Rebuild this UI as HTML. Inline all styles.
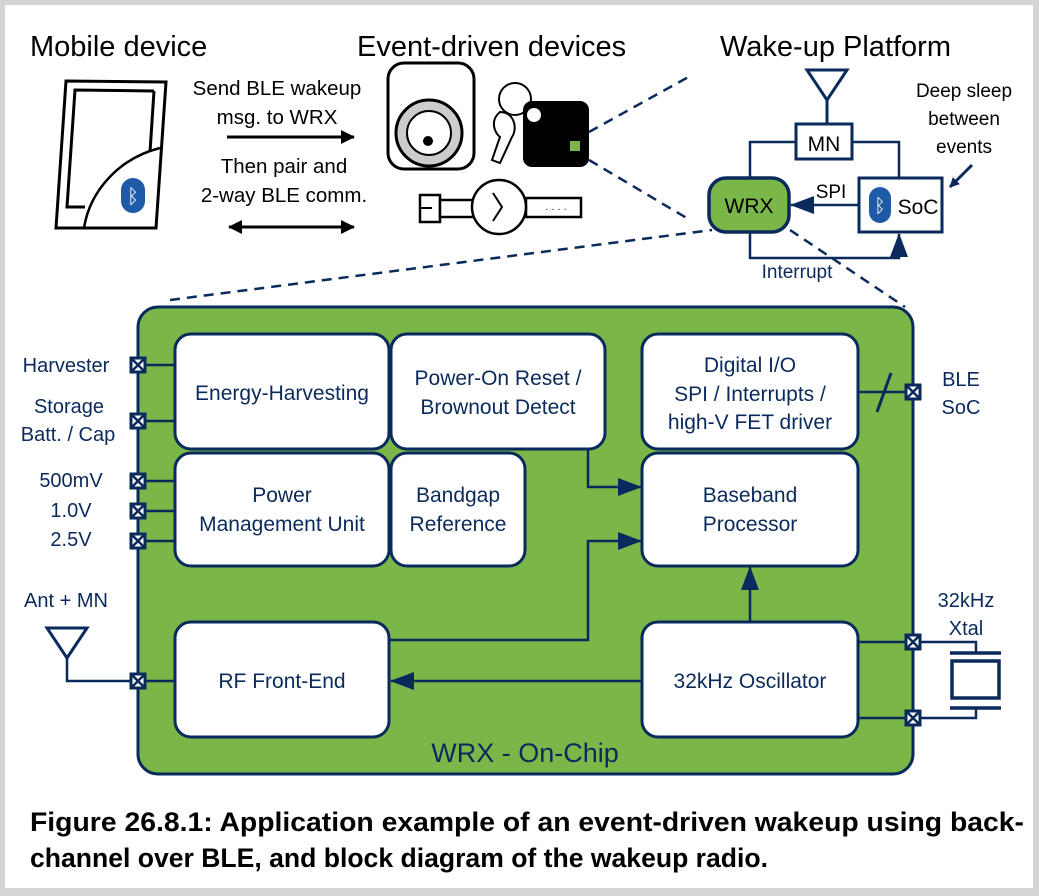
<!DOCTYPE html>
<html><head><meta charset="utf-8"><style>
html,body{margin:0;padding:0;background:#d4d4d4;}
svg{display:block;}
text{font-family:"Liberation Sans",sans-serif;}
</style></head><body>
<svg width="1039" height="896" viewBox="0 0 1039 896" xmlns="http://www.w3.org/2000/svg">
<defs>
<marker id="ab" markerWidth="10" markerHeight="10" refX="9" refY="5" orient="auto" markerUnits="userSpaceOnUse" viewBox="0 0 10 10"><path d="M0,0 L10,5 L0,10z" fill="#0b2a5c"/></marker>
<marker id="ak" markerWidth="14" markerHeight="14" refX="13" refY="7" orient="auto-start-reverse" markerUnits="userSpaceOnUse" viewBox="0 0 14 14"><path d="M0,0 L14,7 L0,14z" fill="#000"/></marker>
<marker id="an" markerWidth="24" markerHeight="18" refX="23" refY="9" orient="auto" markerUnits="userSpaceOnUse" viewBox="0 0 24 18"><path d="M0,0 L24,9 L0,18z" fill="#0b2a5c"/></marker>
<g id="pad"><rect x="-7" y="-7" width="14" height="14" fill="#fff" stroke="#0b2a5c" stroke-width="3"/><path d="M-6,-6 L6,6 M6,-6 L-6,6" stroke="#0b2a5c" stroke-width="2.5"/></g>
</defs>
<rect x="5" y="5" width="1028" height="883" fill="#fff"/>

<!-- titles -->
<text x="30" y="56" font-size="29" fill="#000">Mobile device</text>
<text x="357" y="56" font-size="29" fill="#000">Event-driven devices</text>
<text x="720" y="56" font-size="29" fill="#000">Wake-up Platform</text>

<!-- phone -->
<path d="M66,81 L166,82 L156,228 L56,228 Z" fill="#fff" stroke="#000" stroke-width="3"/>
<path d="M154,91 L75,90 L67,207 L85,207" fill="none" stroke="#000" stroke-width="3"/>
<path d="M154,91 L150,152" fill="none" stroke="#000" stroke-width="3"/>
<path d="M84,228 C90,190 120,158 160,148" fill="none" stroke="#000" stroke-width="2.5"/>
<rect x="121" y="178" width="24" height="35" rx="12" fill="#1f5aa6"/>
<text x="133" y="203" font-size="20" fill="#fff" text-anchor="middle">ᛒ</text>

<text x="277" y="95" font-size="20.5" text-anchor="middle">Send BLE wakeup</text>
<text x="277" y="124" font-size="20.5" text-anchor="middle">msg. to WRX</text>
<line x1="227" y1="137" x2="354" y2="137" stroke="#000" stroke-width="3" marker-end="url(#ak)"/>
<text x="284" y="173" font-size="20.5" text-anchor="middle">Then pair and</text>
<text x="284" y="202" font-size="20.5" text-anchor="middle">2-way BLE comm.</text>
<line x1="229" y1="227" x2="354" y2="227" stroke="#000" stroke-width="3" marker-start="url(#ak)" marker-end="url(#ak)"/>

<!-- lock -->
<rect x="388" y="63" width="86" height="106" rx="16" fill="#fff" stroke="#000" stroke-width="3"/>
<circle cx="429" cy="133" r="33" fill="#ccc" stroke="#000" stroke-width="3"/>
<circle cx="429" cy="133" r="22" fill="#fff" stroke="#000" stroke-width="2"/>
<circle cx="428" cy="141" r="5" fill="#000"/>
<!-- key & tag -->
<circle cx="515" cy="99" r="16" fill="none" stroke="#000" stroke-width="2"/>
<path d="M500,112 C490,120 494,132 500,137 L492,160 L500,163 L512,137 C518,128 514,112 500,112z" fill="#fff" stroke="#000" stroke-width="2"/>
<rect x="523" y="101" width="66" height="66" rx="9" fill="#000"/>
<circle cx="534" cy="115" r="7" fill="#fff"/>
<rect x="570" y="141" width="10" height="10" fill="#7ab648"/>
<!-- watch -->
<rect x="420" y="195" width="20" height="27" fill="#fff" stroke="#000" stroke-width="2.5"/>
<line x1="420" y1="208" x2="432" y2="208" stroke="#000" stroke-width="2"/>
<rect x="440" y="200" width="34" height="17" fill="#fff" stroke="#000" stroke-width="2.5"/>
<rect x="526" y="198" width="55" height="19" fill="#fff" stroke="#000" stroke-width="2.5"/>
<text x="556" y="212" font-size="10" text-anchor="middle">· · · ·</text>
<circle cx="499" cy="207" r="27" fill="#fff" stroke="#000" stroke-width="2.5"/>
<path d="M493,193 L502,207 L493,221" fill="none" stroke="#000" stroke-width="2"/>

<!-- dashed lines -->
<g stroke="#0b2a5c" stroke-width="2.5" stroke-dasharray="10,7" fill="none">
<line x1="589" y1="132" x2="692" y2="75"/>
<line x1="589" y1="160" x2="690" y2="220"/>
<line x1="170" y1="300" x2="712" y2="230"/>
<line x1="790" y1="230" x2="905" y2="307"/>
</g>

<!-- wake-up platform -->
<path d="M807,70 L847,70 L827,100 Z" fill="#fff" stroke="#0b2a5c" stroke-width="3"/>
<line x1="827" y1="100" x2="827" y2="124" stroke="#0b2a5c" stroke-width="3"/>
<rect x="796" y="124" width="56" height="35" fill="#fff" stroke="#0b2a5c" stroke-width="3"/>
<text x="824" y="151" font-size="21" text-anchor="middle" fill="#000">MN</text>
<path d="M796,142 L750,142 L750,178 M852,142 L899,142 L899,178" fill="none" stroke="#0b2a5c" stroke-width="2.5"/>
<rect x="709" y="178" width="80" height="54" rx="17" fill="#7ab648" stroke="#0b2a5c" stroke-width="3.5"/>
<text x="749" y="213" font-size="21" text-anchor="middle" fill="#000">WRX</text>
<rect x="859" y="178" width="83" height="54" fill="#fff" stroke="#0b2a5c" stroke-width="3"/>
<rect x="869" y="187" width="22" height="36" rx="11" fill="#1f5aa6"/>
<text x="880" y="212" font-size="19" fill="#fff" text-anchor="middle">ᛒ</text>
<text x="918" y="214" font-size="21" text-anchor="middle" fill="#000">SoC</text>
<line x1="859" y1="205" x2="791" y2="205" stroke="#0b2a5c" stroke-width="2.5" marker-end="url(#an)"/>
<text x="831" y="198" font-size="19" text-anchor="middle">SPI</text>
<path d="M750,232 L750,258 L899,258 L899,234" fill="none" stroke="#0b2a5c" stroke-width="2.5" marker-end="url(#an)"/>
<text x="797" y="278" font-size="19" text-anchor="middle" fill="#0b2a5c">Interrupt</text>
<text x="964" y="97" font-size="19" text-anchor="middle">Deep sleep</text>
<text x="964" y="125" font-size="19" text-anchor="middle">between</text>
<text x="964" y="153" font-size="19" text-anchor="middle">events</text>
<line x1="972" y1="165" x2="950" y2="187" stroke="#0b2a5c" stroke-width="3" marker-end="url(#ab)"/>

<!-- green chip -->
<rect x="138" y="307" width="775" height="467" rx="20" fill="#7ab648" stroke="#0b2a5c" stroke-width="3"/>

<!-- wires -->
<g stroke="#0b2a5c" stroke-width="2.5" fill="none">
<line x1="145" y1="365" x2="176" y2="365"/>
<line x1="145" y1="421" x2="176" y2="421"/>
<line x1="145" y1="481" x2="176" y2="481"/>
<line x1="145" y1="511" x2="176" y2="511"/>
<line x1="145" y1="541" x2="176" y2="541"/>
<line x1="145" y1="681" x2="176" y2="681"/>
<line x1="858" y1="392" x2="906" y2="392"/>
<line x1="858" y1="642" x2="906" y2="642"/>
<line x1="858" y1="718" x2="906" y2="718"/>
<path d="M588,449 L588,487 L641,487" marker-end="url(#an)"/>
<path d="M389,640 L588,640 L588,541 L641,541" marker-end="url(#an)"/>
<line x1="642" y1="681" x2="391" y2="681" marker-end="url(#an)"/>
<line x1="750" y1="622" x2="750" y2="567" marker-end="url(#an)"/>
</g>
<line x1="877" y1="412" x2="891" y2="373" stroke="#0b2a5c" stroke-width="3"/>

<!-- blocks -->
<g fill="#fff" stroke="#0b2a5c" stroke-width="3">
<rect x="175" y="334" width="214" height="115" rx="16"/>
<rect x="391" y="334" width="214" height="115" rx="16"/>
<rect x="642" y="334" width="216" height="115" rx="16"/>
<rect x="175" y="453" width="214" height="113" rx="16"/>
<rect x="391" y="453" width="134" height="113" rx="16"/>
<rect x="642" y="453" width="216" height="113" rx="16"/>
<rect x="175" y="622" width="214" height="115" rx="16"/>
<rect x="642" y="622" width="216" height="115" rx="16"/>
</g>
<g font-size="21" fill="#0b2a5c" text-anchor="middle">
<text x="282" y="400">Energy-Harvesting</text>
<text x="498" y="385">Power-On Reset /</text>
<text x="498" y="414">Brownout Detect</text>
<text x="750" y="372">Digital I/O</text>
<text x="750" y="401">SPI / Interrupts /</text>
<text x="750" y="429">high-V FET driver</text>
<text x="282" y="502">Power</text>
<text x="282" y="531">Management Unit</text>
<text x="458" y="502">Bandgap</text>
<text x="458" y="531">Reference</text>
<text x="750" y="502">Baseband</text>
<text x="750" y="531">Processor</text>
<text x="282" y="688">RF Front-End</text>
<text x="750" y="688">32kHz Oscillator</text>
<text x="525" y="762" font-size="27">WRX - On-Chip</text>
</g>

<!-- pads -->
<use href="#pad" x="138" y="365"/>
<use href="#pad" x="138" y="421"/>
<use href="#pad" x="138" y="481"/>
<use href="#pad" x="138" y="511"/>
<use href="#pad" x="138" y="541"/>
<use href="#pad" x="138" y="681"/>
<use href="#pad" x="913" y="392"/>
<use href="#pad" x="913" y="642"/>
<use href="#pad" x="913" y="718"/>

<!-- pad labels -->
<g font-size="20" fill="#0b2a5c" text-anchor="middle">
<text x="66" y="372">Harvester</text>
<text x="69" y="413">Storage</text>
<text x="68" y="441">Batt. / Cap</text>
<text x="71" y="487">500mV</text>
<text x="71" y="517">1.0V</text>
<text x="71" y="546">2.5V</text>
<text x="66" y="607">Ant + MN</text>
<text x="961" y="386">BLE</text>
<text x="961" y="414">SoC</text>
<text x="966" y="607">32kHz</text>
<text x="966" y="635">Xtal</text>
</g>
<!-- antenna -->
<path d="M47,628 L87,628 L67,658 Z" fill="#fff" stroke="#0b2a5c" stroke-width="3"/>
<path d="M67,658 L67,681 L131,681" fill="none" stroke="#0b2a5c" stroke-width="2.5"/>
<!-- xtal -->
<g stroke="#0b2a5c" fill="none">
<path d="M920,642 L976,642 L976,653 M920,718 L976,718 L976,708" stroke-width="2.5"/>
<line x1="950" y1="653" x2="1001" y2="653" stroke-width="3.5"/>
<line x1="950" y1="708" x2="1001" y2="708" stroke-width="3.5"/>
<rect x="952" y="661" width="47" height="37" fill="#fff" stroke-width="3.5"/>
</g>

<!-- caption -->
<text x="30" y="831" font-size="27" font-weight="bold" fill="#000" textLength="994" lengthAdjust="spacingAndGlyphs">Figure 26.8.1: Application example of an event-driven wakeup using back-</text>
<text x="30" y="867" font-size="27" font-weight="bold" fill="#000" textLength="738" lengthAdjust="spacingAndGlyphs">channel over BLE, and block diagram of the wakeup radio.</text>
</svg>
</body></html>
